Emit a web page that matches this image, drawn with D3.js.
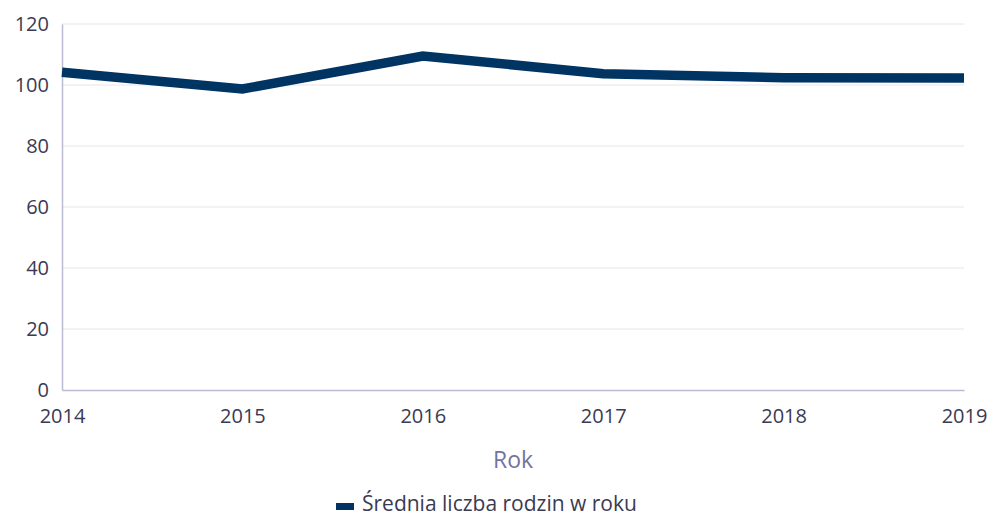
<!DOCTYPE html>
<html>
<head>
	<meta charset="utf-8">
	<title></title>
	<style type="text/css">
		body {
			margin: 0;
			background-color: #fff;
		}
		svg {
			display: block;
			font-family: 'Open Sans', sans-serif;
		}
		.grid line {
			stroke: #e4e4ee;
			stroke-width: 1px;
		}
		.axis path, .axis line {
			stroke: #babad0;
		}
		.axis text {
			fill: #3a3a52;
			font-family: 'Open Sans', sans-serif;
			font-size: 20px;
		}
		.axisLabel {
			fill: #7373a0;
			font-size: 23px;
		}
		.legendText {
			fill: #3a3a52;
			font-size: 21px;
		}
	</style>
	<script type="text/javascript" src="https://cdn.jsdelivr.net/npm/d3@7"></script>
</head>
<body>
	<div id="chart"></div>
	<script type="text/javascript">
		var width = 987, height = 517;
		var margin = {left: 62, right: 23, top: 24, bottom: 127};

		var years = [2014, 2015, 2016, 2017, 2018, 2019];
		var values = [104.2, 98.7, 109.5, 103.7, 102.4, 102.3];
		var yTicks = [0, 20, 40, 60, 80, 100, 120];
		var seriesName = 'Średnia liczba rodzin w roku';
		var xTitle = 'Rok';

		var svg = d3.select('#chart')
			.append('svg')
			.attr('width', width)
			.attr('height', height);

		var xScale = d3.scaleLinear()
			.domain([2014, 2019])
			.range([margin.left, width - margin.right]);

		var yScale = d3.scaleLinear()
			.domain([0, 120])
			.range([height - margin.bottom, margin.top]);

		// horizontal grid
		svg.append('g')
			.attr('class', 'grid')
			.selectAll('line')
			.data(yTicks.filter(function(d){ return d > 0; }))
			.enter()
			.append('line')
			.attr('x1', margin.left)
			.attr('x2', width - margin.right)
			.attr('y1', function(d){ return yScale(d); })
			.attr('y2', function(d){ return yScale(d); });

		var yAxis = d3.axisLeft(yScale)
			.tickValues(yTicks)
			.tickSize(0)
			.tickPadding(13);

		svg.append('g')
			.attr('class', 'axis')
			.attr('transform', 'translate(' + margin.left + ',0)')
			.call(yAxis)
			.select('.domain').attr('stroke-width', 1.5);

		var xAxis = d3.axisBottom(xScale)
			.tickValues(years)
			.tickFormat(d3.format('d'))
			.tickSize(0)
			.tickPadding(19);

		svg.append('g')
			.attr('class', 'axis')
			.attr('transform', 'translate(0,' + yScale(0) + ')')
			.call(xAxis)
			.select('.domain').attr('stroke-width', 1.5);

		var line = d3.line()
			.x(function(d, i){ return xScale(years[i]); })
			.y(function(d){ return yScale(d); });

		svg.append('path')
			.datum(values)
			.attr('d', line)
			.attr('fill', 'none')
			.attr('stroke', '#003462')
			.attr('stroke-width', 9.5)
			.attr('stroke-linejoin', 'miter');

		svg.append('text')
			.attr('class', 'axisLabel')
			.attr('x', (margin.left + width - margin.right) / 2)
			.attr('y', 468)
			.attr('text-anchor', 'middle')
			.text(xTitle);

		// legend, kept just above the bottom edge
		var legend = svg.append('g')
			.attr('transform', 'translate(336,511)');

		legend.append('rect')
			.attr('x', 0)
			.attr('y', -8)
			.attr('width', 18)
			.attr('height', 7)
			.attr('fill', '#003462');

		legend.append('text')
			.attr('class', 'legendText')
			.attr('x', 26)
			.attr('y', 0)
			.text(seriesName);
	</script>
</body>
</html>
